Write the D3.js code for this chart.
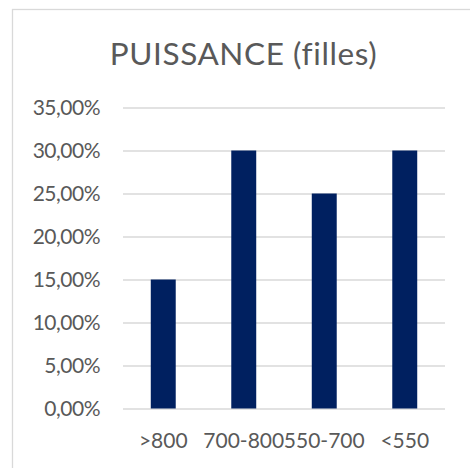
<!DOCTYPE html>
<html>
<head>
<meta charset="utf-8">
<script src="https://cdn.jsdelivr.net/npm/d3@7"></script>
<style>
  body { margin: 0; background: #fff; }
  svg { display: block; }
  text { font-family: Lato, "Open Sans", sans-serif; fill: #595959; font-variant-ligatures: none; }
</style>
</head>
<body>
<svg id="chart" width="470" height="468"></svg>
<script>

var categories = [">800", "700-800", "550-700", "<550"];
var values = [0.15, 0.30, 0.25, 0.30];
var yTicks = [0, 0.05, 0.10, 0.15, 0.20, 0.25, 0.30, 0.35];
var title = "PUISSANCE (filles)";

var chart = {};

function setup() {
    chart.margin = {top: 107.5, left: 123, right: 445, bottom: 408.5}

    chart.svg = d3.select("#chart")

    // outer frame of the chart, it runs off the window on the right and bottom
    chart.svg.append("rect")
        .attr("x", 12.5)
        .attr("y", 9.5)
        .attr("width", 470)
        .attr("height", 470)
        .attr("fill", "#fff")
        .attr("stroke", "#d9d9d9")
        .attr("stroke-width", 1.3)

    chart.svg.append("text")
        .attr("x", 243.5)
        .attr("y", 65)
        .attr("text-anchor", "middle")
        .style("font-size", "31.5px")
        .style("letter-spacing", "0.6px")
        .text(title)

    chart.x = d3.scaleBand()
                .domain(categories)
                .range([chart.margin.left, chart.margin.right])
                .paddingInner(0.69)
                .paddingOuter(0.345)

    chart.y = d3.scaleLinear()
                .domain([0, 0.35])
                .range([chart.margin.bottom, chart.margin.top])

    var fmt = d => d3.format(".2f")(d * 100).replace(".", ",") + "%"

    // gridlines + y labels
    var yAxis = chart.svg.append("g")
        .call(d3.axisLeft(chart.y)
                .tickValues(yTicks)
                .tickFormat(fmt)
                .tickSize(-(chart.margin.right - chart.margin.left))
                .tickPadding(23))
        .attr("transform", `translate(${chart.margin.left},0)`)

    yAxis.select(".domain").remove()
    yAxis.selectAll("line")
        .attr("stroke", "#d9d9d9")
        .attr("stroke-width", 1.4)
    yAxis.selectAll("text")
        .attr("fill", "#595959")
        .style("font-size", "21px")
        .style("letter-spacing", "-0.5px")
        .style("font-family", "Lato, sans-serif")

    chart.svg.append("g")
        .selectAll("rect")
        .data(values)
        .join("rect")
        .attr("x", (d, i) => chart.x(categories[i]))
        .attr("y", d => chart.y(d))
        .attr("width", chart.x.bandwidth())
        .attr("height", d => chart.y(0) - chart.y(d))
        .attr("fill", "#002060")

    var xAxis = chart.svg.append("g")
        .attr("transform", `translate(0,${chart.margin.bottom})`)
        .call(d3.axisBottom(chart.x).tickSize(0).tickPadding(24.5))

    xAxis.select(".domain").remove()
    xAxis.selectAll("text")
        .attr("fill", "#595959")
        .style("font-size", "21px")
        .style("font-family", "Lato, sans-serif")
}

window.addEventListener('load', setup)
</script>
</body>
</html>
